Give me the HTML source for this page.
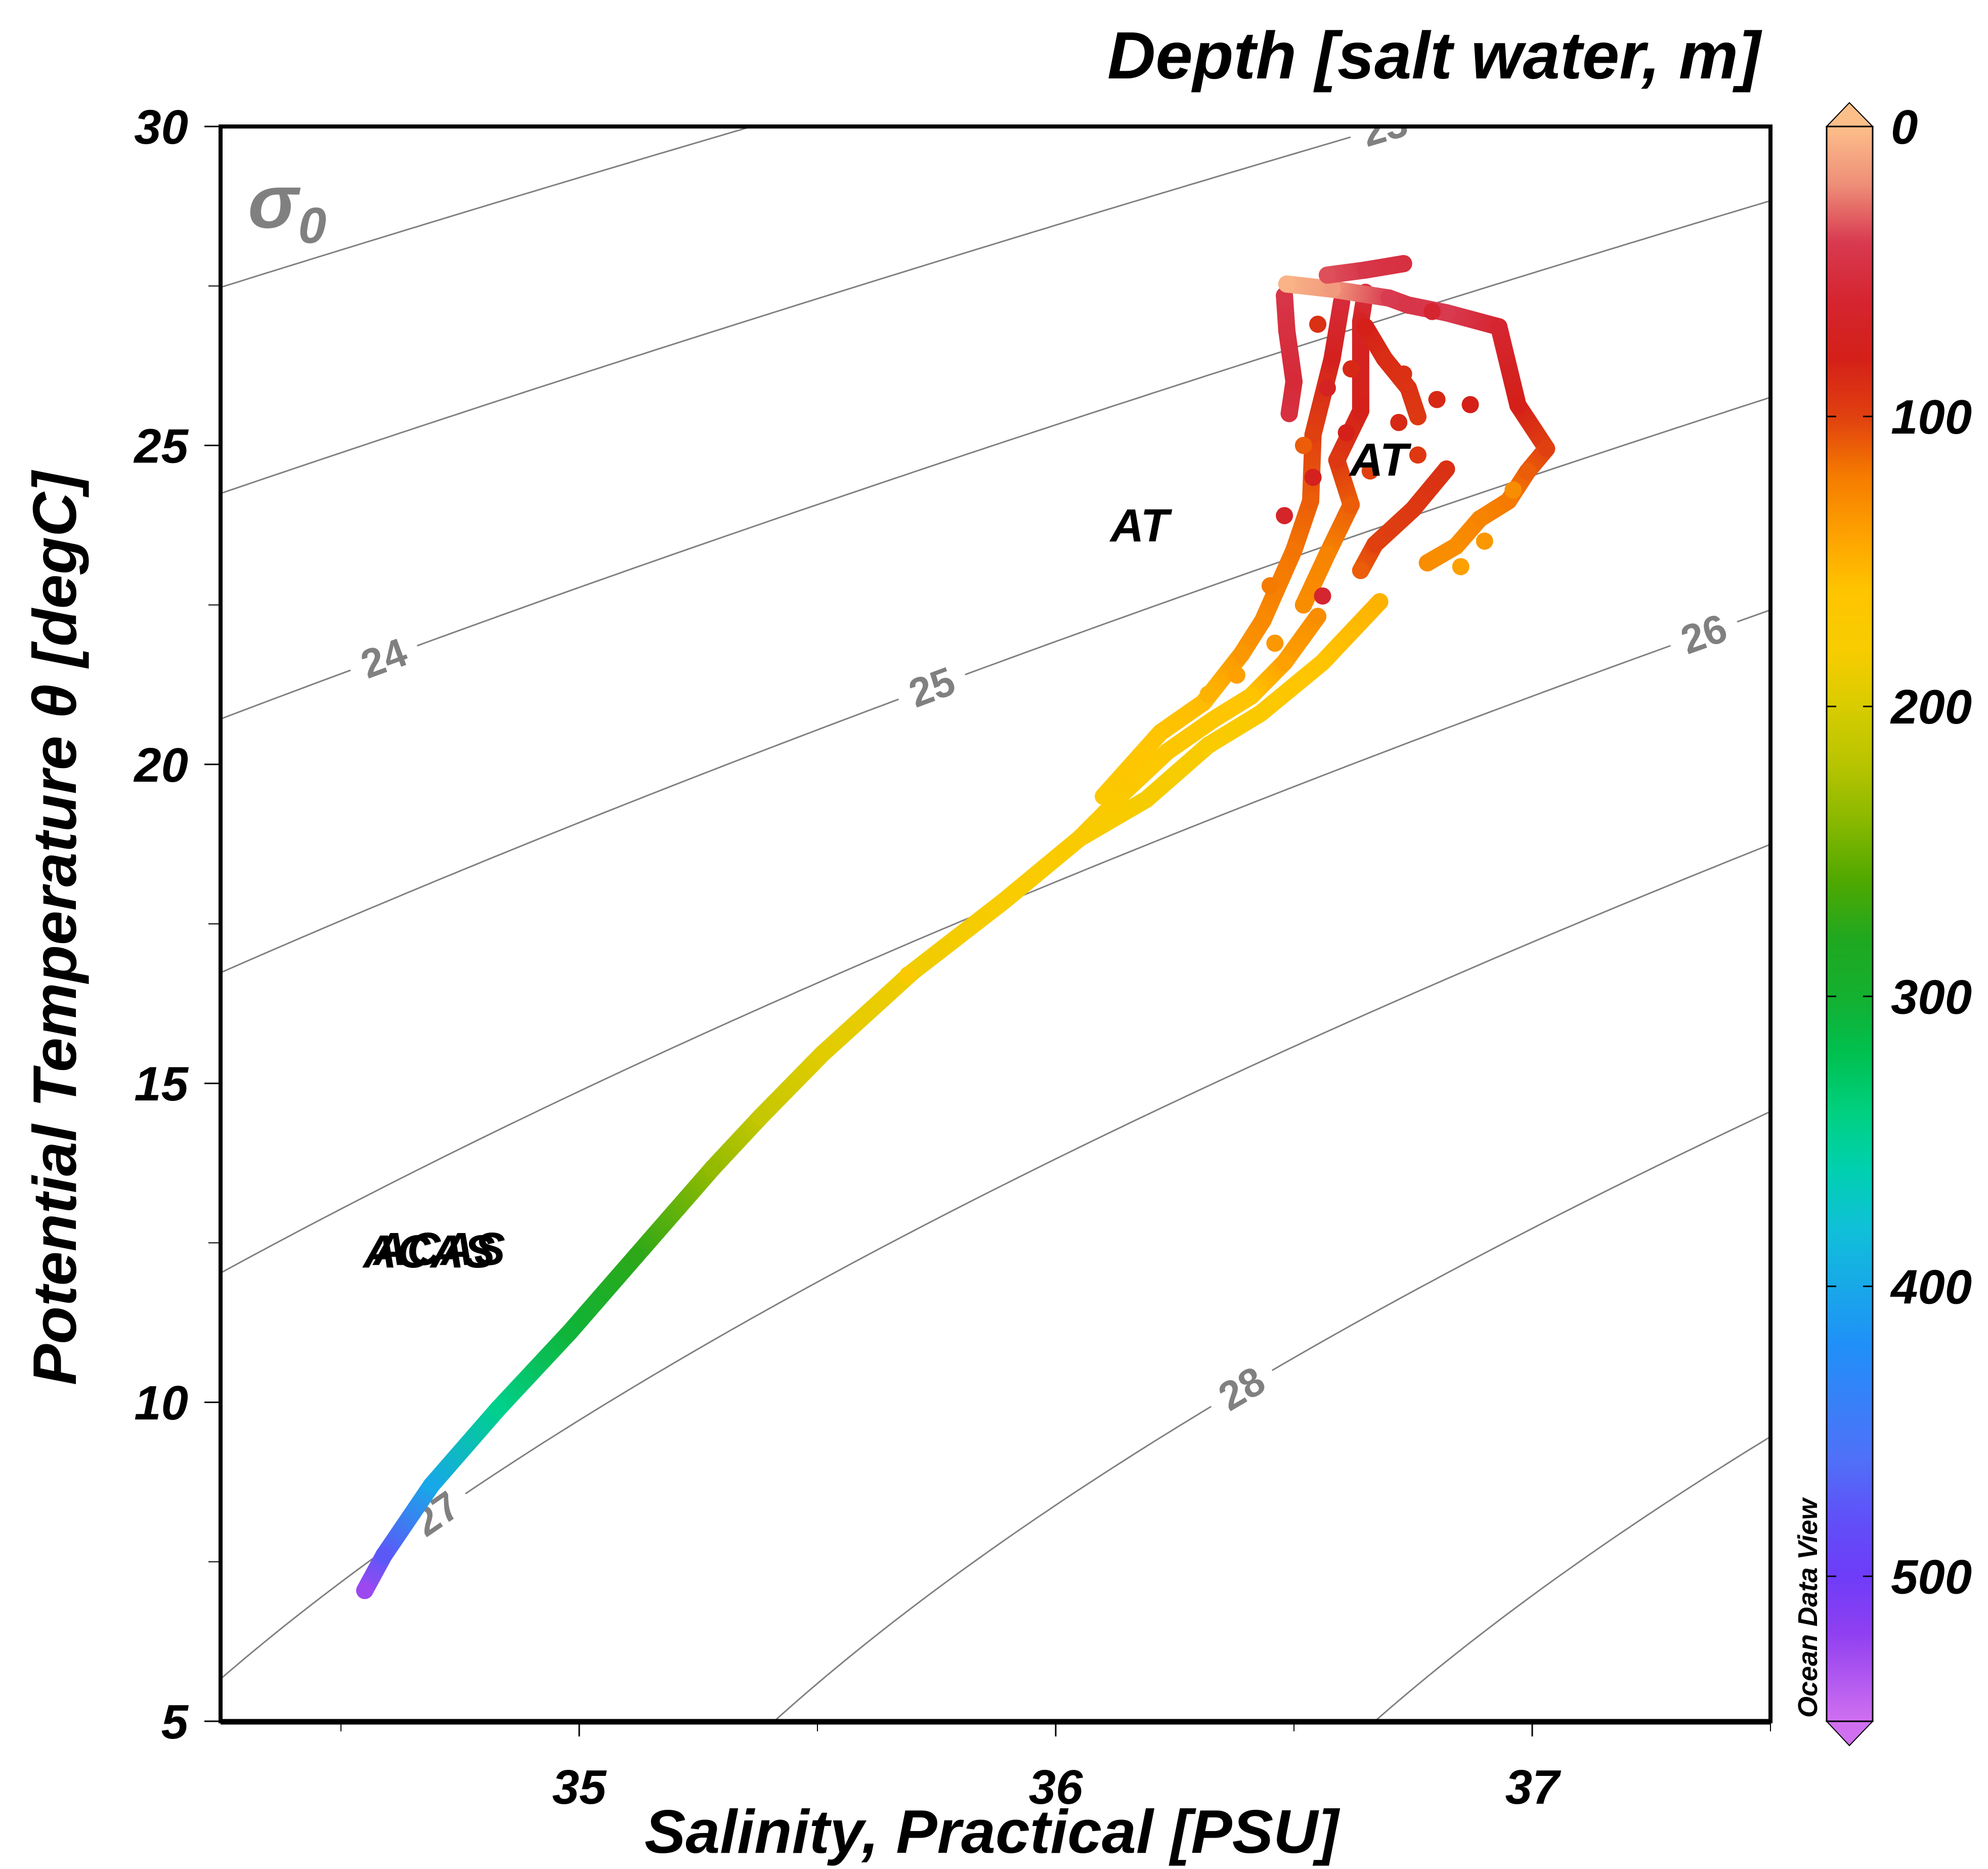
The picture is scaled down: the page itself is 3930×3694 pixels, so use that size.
<!DOCTYPE html>
<html><head><meta charset="utf-8">
<style>
html,body{margin:0;padding:0;background:#fff;overflow:hidden;}
svg{display:block;}
text{font-family:"Liberation Sans",Arial,sans-serif;}
</style></head>
<body>
<svg id="chart" width="3930" height="3694" viewBox="0 0 3930 3694" xmlns="http://www.w3.org/2000/svg">
<defs>
<clipPath id="plotclip"><rect x="437" y="250" width="3063" height="3152"/></clipPath>
<linearGradient id="cbgrad" x1="0" y1="250" x2="0" y2="3402" gradientUnits="userSpaceOnUse"></linearGradient>
</defs>
<g id="contours" clip-path="url(#plotclip)"></g>
<g id="clabels" clip-path="url(#plotclip)"></g>
<g id="marks" clip-path="url(#plotclip)"></g>
<text x="490" y="450" font-size="150" font-weight="bold" font-style="italic" fill="#808080">σ<tspan font-size="100" dy="30">0</tspan></text>
<g font-weight="bold" font-style="italic" font-size="92" fill="#000">
<text x="718" y="2505">ACAS</text>
<text x="738" y="2500">ACAS</text>
<text x="2195" y="1070">AT</text>
<text x="2668" y="940">AT</text>
</g>
<path d="M436 3402 L436 250 L3500 250 L3500 3402 Z" fill="none" stroke="#000" stroke-width="8"/>
<line x1="436" y1="3403" x2="3500" y2="3403" stroke="#000" stroke-width="11"/>
<g id="axes"></g>
<text x="1960" y="3662" text-anchor="middle" font-size="122" font-weight="bold" font-style="italic">Salinity, Practical [PSU]</text>
<text transform="translate(150,1835) rotate(-90)" text-anchor="middle" font-size="122" font-weight="bold" font-style="italic">Potential Temperature θ [degC]</text>
<text x="3480" y="155" text-anchor="end" font-size="132" font-weight="bold" font-style="italic">Depth [salt water, m]</text>
<g id="cbar"></g>
<text transform="translate(3592,3395) rotate(-90)" font-size="54" font-weight="bold" font-style="italic">Ocean Data View</text>
</svg>
<script>
// ---- data ----
const xTicks = [35, 36, 37];
const xMinor = [34.5, 35.5, 36.5, 37.5];
const yTicks = [5, 10, 15, 20, 25, 30];
const yMinor = [7.5, 12.5, 17.5, 22.5, 27.5];
const cbTicks = [0, 100, 200, 300, 400, 500];
const sigmaLevels = [21, 22, 23, 24, 25, 26, 27, 28, 29, 30];
const sigmaLabelVals = [23, 24, 25, 26, 27, 28];
const sigmaLabelSal = [36.69, 34.59, 35.74, 37.36, 34.70, 36.39];
const cmapDepth = [0, 20, 40, 60, 80, 100, 120, 140, 160, 180, 200, 220, 240, 260, 280, 300, 320, 340, 360, 380, 400, 420, 440, 460, 480, 500, 520, 550];
const cmapColor = ["#fdbf8a","#ee8e78","#d83a50","#d52530","#d42018","#e04010","#f57a00","#fda000","#ffc400","#f8cc00","#d8cc00","#b8c400","#88b800","#50a800","#20a820","#14b030","#00c050","#00d080","#00d0b0","#10c0d8","#18a8e8","#2090f8","#3880f8","#5070f8","#6050f8","#6e3cf8","#9040f0","#d070f0"];
// casts: [salinity, potential temperature, depth]
const castTrunk = [[34.55,7.05,525],[34.59,7.6,475],[34.69,8.7,400],[34.83,9.9,345],[34.98,11.1,305],[35.12,12.3,275],[35.28,13.67,235],[35.38,14.47,212],[35.51,15.46,195],[35.70,16.75,185],[35.89,17.85,180],[36.05,18.84,175],[36.125,19.4,172]];
const castA = [[36.05,18.84,175],[36.19,19.45,182],[36.32,20.3,178],[36.43,20.8,172],[36.56,21.6,160],[36.68,22.55,150]];
const castB = [[36.12,19.4,172],[36.234,20.2,168],[36.33,20.7,165],[36.41,21.07,160],[36.48,21.6,140],[36.55,22.32,130]];
const castB2 = [[36.64,23.04,110],[36.67,23.45,100],[36.75,24.0,95],[36.82,24.63,90]];
const castC = [[36.10,19.5,170],[36.22,20.5,160],[36.31,20.97,155],[36.39,21.73,135],[36.435,22.26,128],[36.50,23.36,118],[36.535,24.13,110],[36.54,25.17,100],[36.58,26.36,75],[36.60,27.25,55]];
const castD = [[36.52,22.5,130],[36.57,23.3,125],[36.62,24.07,110],[36.59,24.77,95],[36.64,25.54,78],[36.64,26.94,70],[36.65,27.4,50]];
const castE = [[36.49,25.5,50],[36.50,26.0,55],[36.485,26.8,50],[36.48,27.35,45]];
const castF = [[36.65,26.86,80],[36.69,26.36,88],[36.74,25.9,92],[36.76,25.45,95]];
const castG = [[36.74,27.2,45],[36.82,27.08,40],[36.93,26.86,60],[36.97,25.63,80],[37.03,24.95,100],[36.99,24.59,110],[36.95,24.13,120],[36.89,23.85,125],[36.84,23.42,130],[36.78,23.16,130]];
const castTop1 = [[36.485,27.53,5],[36.58,27.45,15],[36.70,27.31,40],[36.74,27.2,45]];
const castTop2 = [[36.57,27.67,35],[36.65,27.75,45],[36.73,27.85,50]];
const singles = [[35.69,16.7,175],[36.73,26.12,90],[36.80,25.72,85],[36.87,25.64,80],[36.72,25.36,85],[36.76,24.85,95],[36.48,23.9,65],[36.56,22.64,60],[36.79,27.1,60],[36.85,23.1,140],[36.90,23.5,135],[36.96,24.3,130],[36.55,26.9,90],[36.57,25.9,70],[36.52,25.0,110],[36.61,25.2,80],[36.66,24.6,100],[36.45,22.8,120],[36.38,21.4,140],[36.46,21.9,135],[36.32,21.1,150],[36.54,24.5,75],[36.62,26.2,85]];
const casts = [castTrunk, castA, castB, castB2, castC, castD, castE, castF, castG, castTop1, castTop2];

// ---- scales ----
const sx = s => 1145 + (s - 35) * 942;
const sy = t => 3402 - (t - 5) * 126.08;
const sd = d => 250 + d * 5.731;
const NS = "http://www.w3.org/2000/svg";
function mk(tag, attrs, parent){const e=document.createElementNS(NS,tag);for(const k in attrs)e.setAttribute(k,attrs[k]);parent.appendChild(e);return e;}
function hex2rgb(h){return [parseInt(h.substr(1,2),16),parseInt(h.substr(3,2),16),parseInt(h.substr(5,2),16)];}
function depthColor(d){
  if(d<=cmapDepth[0])return cmapColor[0];
  for(let i=1;i<cmapDepth.length;i++){if(d<=cmapDepth[i]){const f=(d-cmapDepth[i-1])/(cmapDepth[i]-cmapDepth[i-1]);const a=hex2rgb(cmapColor[i-1]),b=hex2rgb(cmapColor[i]);return "rgb("+a.map((v,j)=>Math.round(v+(b[j]-v)*f)).join(",")+")";}}
  return cmapColor[cmapColor.length-1];
}
// EOS80 sigma0
function sigma0(S,T){
  const rw=999.842594+6.793952e-2*T-9.095290e-3*T*T+1.001685e-4*T**3-1.120083e-6*T**4+6.536332e-9*T**5;
  const A=8.24493e-1-4.0899e-3*T+7.6438e-5*T*T-8.2467e-7*T**3+5.3875e-9*T**4;
  const B=-5.72466e-3+1.0227e-4*T-1.6546e-6*T*T;
  return rw+A*S+B*Math.pow(S,1.5)+4.8314e-4*S*S-1000;
}
function tForSigma(sig,S){let lo=-2,hi=40;if(sigma0(S,lo)<sig)return null;if(sigma0(S,hi)>sig)return null;for(let i=0;i<50;i++){const m=(lo+hi)/2;if(sigma0(S,m)>sig)lo=m;else hi=m;}return (lo+hi)/2;}

// ---- contours ----
const cg=document.getElementById('contours');
sigmaLevels.forEach(sig=>{
  let d="";let started=false;
  for(let s=34.0;s<=37.8;s+=0.02){const t=tForSigma(sig,s);if(t===null)continue;d+=(started?"L":"M")+sx(s).toFixed(1)+" "+sy(t).toFixed(1)+" ";started=true;}
  const p=mk('path',{d:d,fill:"none",stroke:"#808080","stroke-width":3},cg);
  
  
});
const lg=document.getElementById('clabels');
sigmaLabelVals.forEach((sig,i)=>{
  const s=sigmaLabelSal[i];const t=tForSigma(sig,s);if(t===null)return;
  const x=sx(s),y=sy(t);const t2=tForSigma(sig,s+0.02);
  const ang=Math.atan2(sy(t2)-y,sx(s+0.02)-x)*180/Math.PI;
  const g=mk('g',{transform:`translate(${x},${y}) rotate(${ang})`},lg);
  
  
  mk('rect',{x:-70,y:-45,width:140,height:90,fill:"#fff"},g);
  const tx=mk('text',{x:0,y:28,"text-anchor":"middle","font-size":80,"font-weight":"bold",fill:"#808080"},g);
  tx.textContent=String(sig);
});

// ---- data marks ----
const mg=document.getElementById('marks');
let gid=0;
casts.forEach((c,ci)=>{
  const g=mk('g',{},mg);
  
  
  for(let i=0;i<c.length-1;i++){
    const a=c[i],b=c[i+1];
    const id='sg'+(gid++);
    const lgd=mk('linearGradient',{id:id,gradientUnits:"userSpaceOnUse",x1:sx(a[0]),y1:sy(a[1]),x2:sx(b[0]),y2:sy(b[1])},document.querySelector('defs'));
    mk('stop',{offset:0,"stop-color":depthColor(a[2])},lgd);
    mk('stop',{offset:1,"stop-color":depthColor(b[2])},lgd);
    const ln=mk('line',{x1:sx(a[0]),y1:sy(a[1]),x2:sx(b[0]),y2:sy(b[1]),stroke:`url(#${id})`,"stroke-width":34,"stroke-linecap":"round"},g);
    
    
  }
  c.forEach(p=>{
    const ci2=mk('circle',{cx:sx(p[0]),cy:sy(p[1]),r:17,fill:depthColor(p[2])},g);
    
    
  });
});
singles.forEach(p=>{
  const c=mk('circle',{cx:sx(p[0]),cy:sy(p[1]),r:17,fill:depthColor(p[2])},mg);
  
  
});

// ---- axes ----
const ag=document.getElementById('axes');
xTicks.forEach(v=>{
  mk('line',{x1:sx(v),y1:3403,x2:sx(v),y2:3432,stroke:"#000","stroke-width":3},ag);
  const t=mk('text',{x:sx(v),y:3565,"text-anchor":"middle","font-size":96,"font-weight":"bold","font-style":"italic"},ag);
  t.textContent=String(v);
  
  
});
xMinor.forEach(v=>{mk('line',{x1:sx(v),y1:3403,x2:sx(v),y2:3422,stroke:"#000","stroke-width":2},ag);});
yTicks.forEach(v=>{
  mk('line',{x1:404,y1:sy(v),x2:436,y2:sy(v),stroke:"#000","stroke-width":3},ag);
  const t=mk('text',{x:372,y:sy(v)+34,"text-anchor":"end","font-size":96,"font-weight":"bold","font-style":"italic"},ag);
  t.textContent=String(v);
  
  
});
yMinor.forEach(v=>{mk('line',{x1:412,y1:sy(v),x2:436,y2:sy(v),stroke:"#000","stroke-width":2},ag);});

// ---- colorbar ----
const grad=document.getElementById('cbgrad');
cmapDepth.forEach((d,i)=>{mk('stop',{offset:(d/550).toFixed(4),"stop-color":cmapColor[i]},grad);});
const cb=document.getElementById('cbar');
mk('polygon',{points:`3611,${sd(0)} 3656,203 3702,${sd(0)}`,fill:cmapColor[0],stroke:"#000","stroke-width":2},cb);
mk('polygon',{points:`3611,${sd(550)} 3656,3450 3702,${sd(550)}`,fill:cmapColor[cmapColor.length-1],stroke:"#000","stroke-width":2},cb);
const cbr=mk('rect',{x:3611,y:sd(0),width:91,height:sd(550)-sd(0),fill:"url(#cbgrad)",stroke:"#000","stroke-width":3},cb);


cbTicks.forEach(v=>{
  mk('line',{x1:3611,y1:sd(v),x2:3630,y2:sd(v),stroke:"#000","stroke-width":3},cb);
  mk('line',{x1:3683,y1:sd(v),x2:3702,y2:sd(v),stroke:"#000","stroke-width":3},cb);
  const t=mk('text',{x:3738,y:sd(v)+34,"font-size":96,"font-weight":"bold","font-style":"italic"},cb);
  t.textContent=String(v);
  
  
});
</script>
</body></html>
